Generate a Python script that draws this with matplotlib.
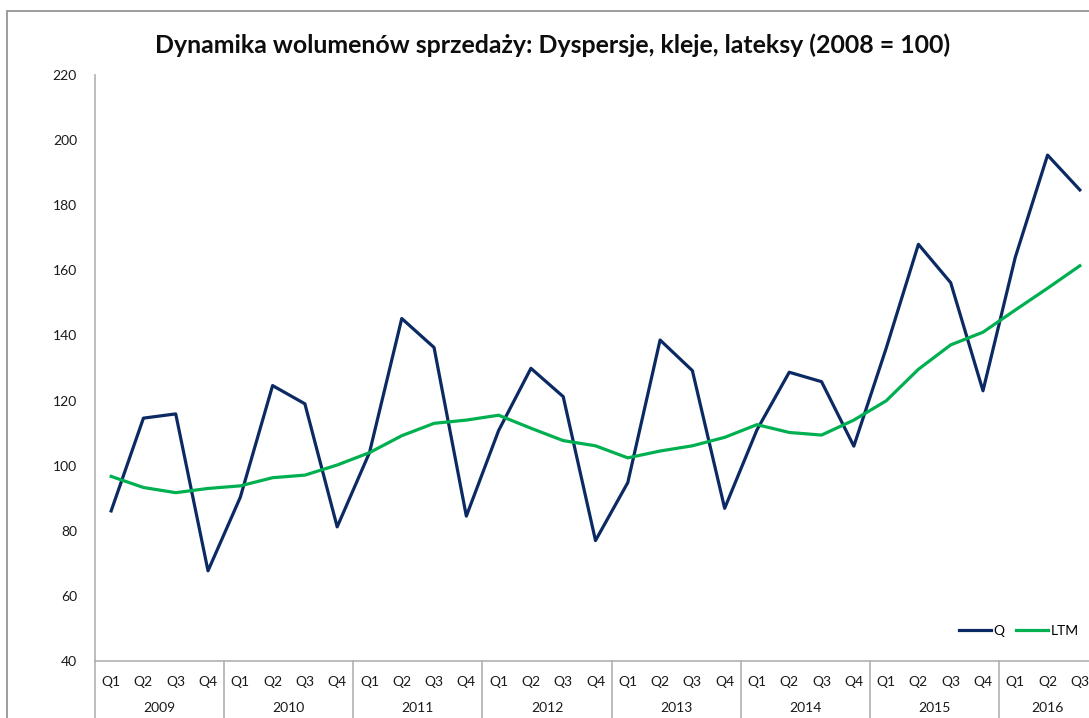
import numpy as np
import matplotlib.pyplot as plt
from matplotlib.patches import Rectangle
from matplotlib.transforms import blended_transform_factory

plt.rcParams['font.family'] = ['Lato', 'DejaVu Sans']

years = ['2009', '2010', '2011', '2012', '2013', '2014', '2015', '2016']
quarters = ['Q1', 'Q2', 'Q3', 'Q4'] * 7 + ['Q1', 'Q2', 'Q3']

# quarterly index (2008 = 100)
q = [86.1, 114.6, 115.9, 67.7,
     90.3, 124.6, 119.0, 81.2,
     104.0, 145.2, 136.3, 84.5,
     110.8, 129.9, 121.2, 77.0,
     94.8, 138.6, 129.2, 86.9,
     111.0, 128.7, 125.8, 106.0,
     136.0, 168.0, 156.2, 123.0,
     164.0, 195.4, 184.7]
# last twelve months
ltm = [96.7, 93.3, 91.7, 93.0,
       93.8, 96.3, 97.1, 100.2,
       104.0, 109.2, 113.0, 114.0,
       115.5, 111.5, 107.7, 106.1,
       102.4, 104.5, 106.1, 108.7,
       112.6, 110.2, 109.4, 114.0,
       119.9, 129.6, 137.1, 141.0,
       147.8, 154.5, 161.4]

x = np.arange(len(q))

fig = plt.figure(figsize=(10.89, 7.18), dpi=100)
fig.patches.append(Rectangle((7 / 1089, -0.1), 1.2, 1 - 11 / 718 + 0.1,
                             transform=fig.transFigure, fill=False,
                             edgecolor='#8c8c8c', linewidth=1.2))

ax = fig.add_axes([95 / 1089, 1 - 661 / 718, (1096 - 95) / 1089, (661 - 75) / 718])
ax.plot(x, q, color='#0b2a63', linewidth=2.3, label='Q')
ax.plot(x, ltm, color='#00b050', linewidth=2.3, label='LTM')

ax.set_ylim(40, 220)
ax.set_yticks(range(40, 221, 20))
ax.set_xlim(-0.5, len(q) - 0.5)
ax.set_xticks(x)
ax.set_xticklabels(quarters)
ax.tick_params(axis='both', length=0, labelsize=10, colors='#1a1a1a')
ax.tick_params(axis='y', pad=13)
ax.tick_params(axis='x', pad=11)

for s in ['top', 'right']:
    ax.spines[s].set_visible(False)
for s in ['left', 'bottom']:
    ax.spines[s].set_color('#b0b0b0')
    ax.spines[s].set_linewidth(1.2)

# year labels and separators under the axis
tr = blended_transform_factory(ax.transData, ax.transAxes)
for i, yr in enumerate(years):
    start = i * 4
    end = min(start + 4, len(q))
    ax.text((start + end - 1) / 2, -0.08, yr, transform=tr, ha='center',
            va='center', fontsize=10, color='#1a1a1a')
    ax.plot([start - 0.5, start - 0.5], [0, -0.12], transform=tr,
            color='#b0b0b0', linewidth=1.2, clip_on=False)

ax.legend(loc='lower right', ncol=2, frameon=False, fontsize=10,
          handlelength=2.3, handletextpad=0.2, columnspacing=0.8,
          bbox_to_anchor=(0.995, 0.02))

fig.text(553 / 1089, 1 - 45 / 718,
         'Dynamika wolumenów sprzedaży: Dyspersje, kleje, lateksy (2008 = 100)',
         ha='center', va='center', fontsize=17.9, fontweight='bold', color='#0d0d0d')

fig.savefig('out.png', dpi=100)
